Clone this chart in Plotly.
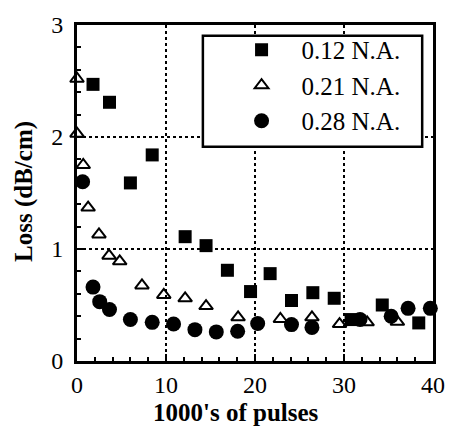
import plotly.graph_objects as go

# Loss vs. number of pulses for three fibre numerical apertures
x_012 = [1.8, 3.65, 6.0, 8.45, 12.15, 14.5, 16.9, 19.5, 21.7, 24.1, 26.5, 28.9, 30.8, 34.3, 38.4]
y_012 = [2.47, 2.31, 1.59, 1.84, 1.11, 1.03, 0.81, 0.62, 0.78, 0.54, 0.61, 0.56, 0.37, 0.50, 0.34]

x_021 = [0.0, 0.0, 0.7, 1.25, 2.47, 3.6, 4.8, 7.3, 9.75, 12.15, 14.5, 18.1, 22.85, 26.4, 29.5, 32.6, 36.0]
y_021 = [2.52, 2.03, 1.75, 1.37, 1.13, 0.94, 0.89, 0.675, 0.59, 0.56, 0.49, 0.39, 0.375, 0.39, 0.33, 0.345, 0.35]

x_028 = [0.63, 1.8, 2.55, 3.65, 6.0, 8.45, 10.85, 13.25, 15.65, 18.05, 20.3, 24.1, 26.4, 31.8, 35.3, 37.2, 39.7]
y_028 = [1.60, 0.66, 0.53, 0.46, 0.37, 0.345, 0.33, 0.28, 0.26, 0.265, 0.335, 0.325, 0.30, 0.37, 0.40, 0.47, 0.47]

series_names = ["0.12 N.A.", "0.21 N.A.", "0.28 N.A."]
x_ticks = [0, 10, 20, 30, 40]
y_ticks = [0, 1, 2, 3]
x_title = "1000's of pulses"
y_title = "Loss (dB/cm)"

SERIF = "Liberation Serif, Times New Roman, serif"

# plot area in pixels
L, R, T, B = 77, 439, 19, 361
W, H = R - L, B - T

fig = go.Figure()
fig.add_trace(go.Scatter(
    x=x_012, y=y_012, mode="markers", name=series_names[0],
    marker=dict(symbol="square", size=13, color="black", line=dict(width=0)),
    cliponaxis=False))
fig.add_trace(go.Scatter(
    x=x_021, y=y_021, mode="markers", name=series_names[1],
    marker=dict(symbol="triangle-up-open", size=12, color="black", line=dict(width=2, color="black")),
    cliponaxis=False))
fig.add_trace(go.Scatter(
    x=x_028, y=y_028, mode="markers", name=series_names[2],
    marker=dict(symbol="circle", size=15, color="black", line=dict(width=0)),
    cliponaxis=False))

axis_common = dict(
    showline=True, linecolor="black", linewidth=3, mirror=True,
    ticks="inside", tickcolor="black", tickwidth=2,
    showgrid=True, gridcolor="black", gridwidth=1.5, griddash="dot",
    zeroline=False,
    tickfont=dict(family=SERIF, size=24, color="black"),
)

fig.update_xaxes(
    range=[0, 40], tickvals=x_ticks, ticklen=7, ticklabelstandoff=0,
    minor=dict(dtick=2, ticks="inside", ticklen=4, tickcolor="black", tickwidth=2, showgrid=False),
    **axis_common)
fig.update_yaxes(
    range=[0, 3], tickvals=y_ticks, ticklen=7, ticklabelstandoff=6,
    minor=dict(dtick=0.2, ticks="inside", ticklen=4, tickcolor="black", tickwidth=2, showgrid=False),
    **axis_common)

# Axis titles
fig.add_annotation(text="<b>" + x_title + "</b>", xref="paper", yref="paper",
                   x=(239 - L) / W, y=(B - 413) / H, xanchor="center", yanchor="middle",
                   showarrow=False, font=dict(family=SERIF, size=25, color="black"))
fig.add_annotation(text="<b>" + y_title + "</b>", xref="paper", yref="paper",
                   x=(23 - L) / W, y=(B - 188) / H, xanchor="center", yanchor="middle",
                   textangle=-90, showarrow=False, font=dict(family=SERIF, size=25, color="black"))

# Framed legend box
fig.add_shape(type="rect", xref="paper", yref="paper",
              x0=(205 - L) / W, x1=(428 - L) / W,
              y0=(B - 143) / H, y1=(B - 30) / H,
              line=dict(color="black", width=2.5), fillcolor="white", layer="above")

fig.update_layout(
    width=457, height=433,
    margin=dict(l=L, r=457 - R, t=T, b=433 - B),
    paper_bgcolor="white", plot_bgcolor="white",
    showlegend=True,
    legend=dict(
        x=(224 - L) / W, y=(B - 21) / H, xanchor="left", yanchor="top",
        bgcolor="rgba(0,0,0,0)", borderwidth=0,
        traceorder="normal",
        font=dict(family=SERIF, size=25, color="black"),
        itemwidth=70,
    ),
)

fig.write_html("out.html")
